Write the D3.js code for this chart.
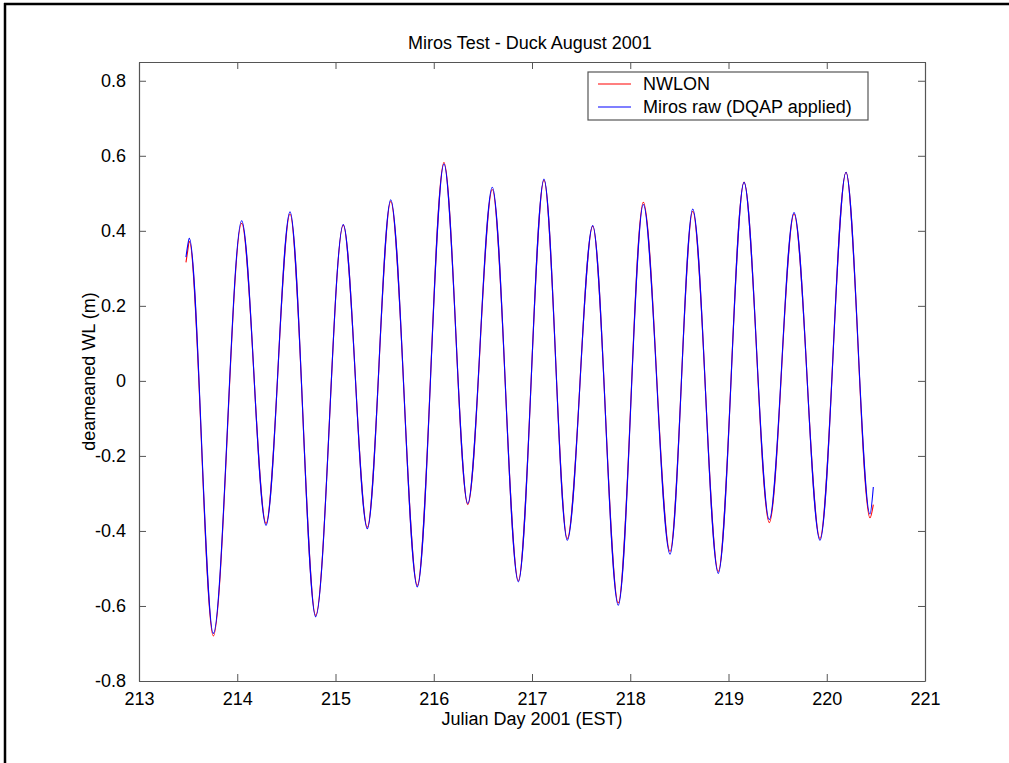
<!DOCTYPE html>
<html>
<head>
<meta charset="utf-8">
<script src="https://cdn.jsdelivr.net/npm/d3@7"></script>
<style>
  html, body { margin: 0; padding: 0; background: #fff; }
  svg { display: block; font-family: "Liberation Sans", Arial, sans-serif; }
</style>
</head>
<body>
<svg id="chart" width="1009" height="763"></svg>
<script>
// Tide turning points (Julian day, metres about the mean)
const tideDays = [
  213.478, 213.495, 213.512, 213.756, 214.045, 214.293, 214.537, 214.798,
  215.079, 215.324, 215.562, 215.833, 216.104, 216.346, 216.596, 216.861,
  217.122, 217.359, 217.618, 217.878, 218.133, 218.405, 218.636, 218.896,
  219.158, 219.415, 219.667, 219.931, 220.196, 220.440, 220.474
];
const nwlonLevel = [
  0.316, 0.345, 0.372, -0.680, 0.420, -0.380, 0.445, -0.625,
  0.415, -0.390, 0.478, -0.545, 0.582, -0.330, 0.510, -0.532,
  0.535, -0.420, 0.412, -0.592, 0.476, -0.455, 0.452, -0.508,
  0.530, -0.378, 0.445, -0.420, 0.556, -0.365, -0.330
];
const mirosLevel = [
  0.330, 0.360, 0.380, -0.673, 0.427, -0.385, 0.451, -0.629,
  0.417, -0.394, 0.483, -0.549, 0.578, -0.327, 0.516, -0.536,
  0.538, -0.425, 0.414, -0.598, 0.470, -0.462, 0.458, -0.513,
  0.529, -0.370, 0.449, -0.425, 0.556, -0.355, -0.283
];
const xTicks = [213, 214, 215, 216, 217, 218, 219, 220, 221];
const yTicks = [-0.8, -0.6, -0.4, -0.2, 0, 0.2, 0.4, 0.6, 0.8];
const seriesNames = ["NWLON", "Miros raw (DQAP applied)"];
const seriesColors = ["#ff0000", "#0000ff"];

const svg = d3.select("#chart");
const W = 1009, H = 763;
const plot = { left: 139, right: 925, top: 62, bottom: 681 };

const x = d3.scaleLinear().domain([213, 221]).range([plot.left, plot.right]);
const y = d3.scaleLinear().domain([-0.8, 0.85]).range([plot.bottom, plot.top]);

// page frame
svg.append("line").attr("x1", 5).attr("x2", 5).attr("y1", 3).attr("y2", H)
  .attr("stroke", "#000").attr("stroke-width", 2.5);
svg.append("line").attr("x1", 4).attr("x2", W).attr("y1", 4).attr("y2", 4)
  .attr("stroke", "#000").attr("stroke-width", 2.5);

// plot box
svg.append("rect")
  .attr("x", plot.left).attr("y", plot.top)
  .attr("width", plot.right - plot.left).attr("height", plot.bottom - plot.top)
  .attr("fill", "#fff");

// series
const line = d3.line().curve(d3.curveMonotoneX);
const series = [nwlonLevel, mirosLevel];
series.forEach((vals, i) => {
  svg.append("path")
    .attr("d", line(tideDays.map((d, k) => [x(d), y(vals[k])])))
    .attr("fill", "none")
    .attr("stroke", seriesColors[i])
    .attr("stroke-width", 1.1);
});

// axes (inward ticks on all four sides, labels on bottom and left)
const axisColor = "#555";
const tickLen = 7;
const fontSize = 18;
const hyphenMinus = s => s.replace("\u2212", "-");

const bottomAxis = d3.axisBottom(x).tickValues(xTicks).tickSizeInner(-tickLen).tickSizeOuter(0)
  .tickPadding(tickLen + 4).tickFormat(d3.format("d"));
const topAxis = d3.axisTop(x).tickValues(xTicks).tickSizeInner(-tickLen).tickSizeOuter(0).tickFormat("");
const leftAxis = d3.axisLeft(y).tickValues(yTicks).tickSizeInner(-tickLen).tickSizeOuter(0)
  .tickPadding(tickLen + 6).tickFormat(d => d === 0 ? "0" : hyphenMinus(d3.format(".1f")(d)));
const rightAxis = d3.axisRight(y).tickValues(yTicks).tickSizeInner(-tickLen).tickSizeOuter(0).tickFormat("");

function styleAxis(g) {
  g.select(".domain").attr("stroke", axisColor).attr("stroke-width", 1.2);
  g.selectAll(".tick line").attr("stroke", axisColor).attr("stroke-width", 1);
  g.selectAll(".tick text").attr("fill", "#000").attr("font-size", fontSize)
    .attr("font-family", "Liberation Sans, Arial, sans-serif");
}

svg.append("g").attr("transform", `translate(0,${plot.bottom})`).call(bottomAxis).call(styleAxis);
svg.append("g").attr("transform", `translate(0,${plot.top})`).call(topAxis).call(styleAxis);
svg.append("g").attr("transform", `translate(${plot.left},0)`).call(leftAxis).call(styleAxis);
svg.append("g").attr("transform", `translate(${plot.right},0)`).call(rightAxis).call(styleAxis);

// titles
svg.append("text").attr("x", 530).attr("y", 49)
  .attr("text-anchor", "middle").attr("font-size", fontSize).text("Miros Test - Duck August 2001");
svg.append("text").attr("x", 532).attr("y", 725)
  .attr("text-anchor", "middle").attr("font-size", fontSize).text("Julian Day 2001 (EST)");
svg.append("text")
  .attr("transform", `translate(95,${(plot.top + plot.bottom) / 2}) rotate(-90)`)
  .attr("text-anchor", "middle").attr("font-size", fontSize).text("deameaned WL (m)");

// legend
const legend = svg.append("g");
legend.append("rect").attr("x", 588).attr("y", 72).attr("width", 280).attr("height", 48)
  .attr("fill", "#fff").attr("stroke", axisColor).attr("stroke-width", 1.2);
seriesNames.forEach((name, i) => {
  const ly = 84 + i * 23;
  legend.append("line").attr("x1", 598).attr("x2", 631).attr("y1", ly).attr("y2", ly)
    .attr("stroke", seriesColors[i]).attr("stroke-width", 1.1);
  legend.append("text").attr("x", 643).attr("y", ly + 6).attr("font-size", fontSize).text(name);
});
</script>
</body>
</html>
